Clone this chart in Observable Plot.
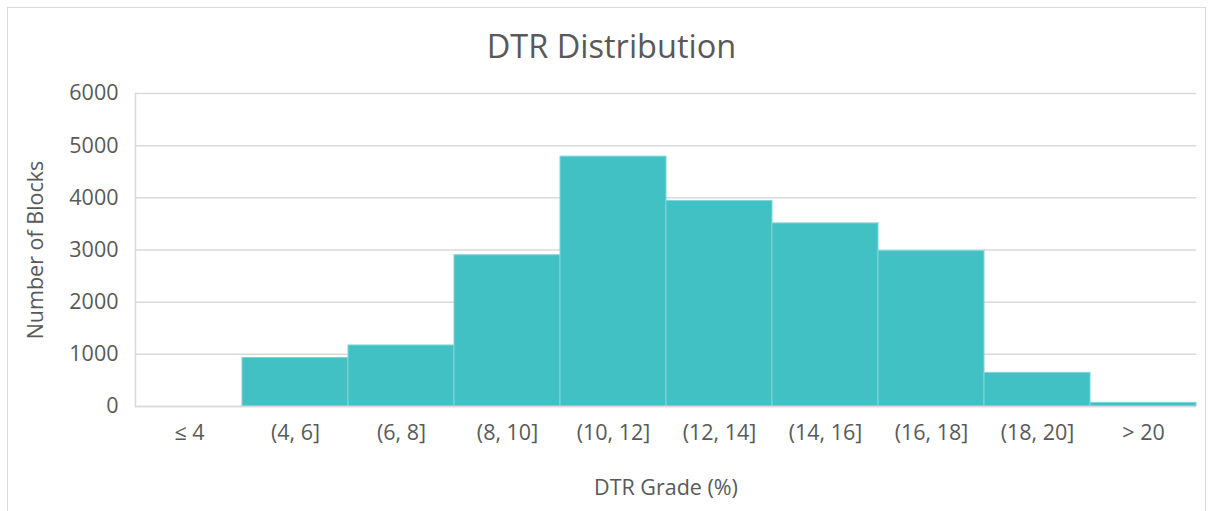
<!DOCTYPE html>
<html>
<head>
<meta charset="utf-8">
<script src="https://cdn.jsdelivr.net/npm/d3@7"></script>
<script src="https://cdn.jsdelivr.net/npm/@observablehq/plot@0.6"></script>
<style>
  html, body { margin: 0; padding: 0; background: #fff; overflow: hidden; }
  #wrap { position: relative; width: 1209px; height: 511px; font-family: "Open Sans", Lato, sans-serif; }
  #frame { position: absolute; left: 7px; top: 7px; width: 1199px; height: 520px; border: 1px solid #d9d9d9; box-sizing: border-box; pointer-events: none; }
  #title { position: relative; height: 70px; padding-top: 25px; line-height: 42px; text-align: center; font-size: 32.5px; color: #595959; padding-left: 14px; box-sizing: border-box; }
  #chart svg { display: block; }
  #chart svg text { font-size: 21.5px; }
</style>
</head>
<body>
<div id="wrap">
  <div id="frame"></div>
  <div id="title">DTR Distribution</div>
  <div id="chart"></div>
</div>
<script>
const categories = ["≤ 4", "(4, 6]", "(6, 8]", "(8, 10]", "(10, 12]", "(12, 14]", "(14, 16]", "(16, 18]", "(18, 20]", "> 20"];
const counts = [0, 930, 1170, 2900, 4790, 3940, 3510, 2980, 645, 70];
const yTicks = [0, 1000, 2000, 3000, 4000, 5000, 6000];

const data = categories.map((c, i) => ({grade: c, count: counts[i]}));

const textColor = "#595959";
const gridColor = "#d9d9d9";

const chart = Plot.plot({
  width: 1209,
  height: 441,
  marginLeft: 135,
  marginRight: 13,
  marginTop: 23,
  marginBottom: 105,
  style: {fontFamily: "'Open Sans', Lato, sans-serif", fontSize: "21.5px", color: textColor, background: "transparent"},
  x: {domain: categories, padding: 0},
  y: {domain: [0, 6000]},
  marks: [
    Plot.gridY(yTicks, {stroke: gridColor, strokeOpacity: 1, strokeWidth: 1.5}),
    Plot.barY(data, {x: "grade", y: "count", fill: "#42c1c5", stroke: "#7fd6d8", strokeWidth: 1}),
    Plot.ruleY([0], {stroke: gridColor, strokeWidth: 1.5}),
    Plot.frame({anchor: "left", stroke: gridColor, strokeWidth: 1.5}),
    Plot.axisY(yTicks, {tickSize: 0, tickPadding: 17, fill: textColor, tickFormat: d => String(d),
      label: "Number of Blocks", labelAnchor: "center", labelArrow: "none", labelOffset: 108}),
    Plot.axisX({tickSize: 0, tickPadding: 18, fill: textColor,
      label: "DTR Grade (%)", labelAnchor: "center", labelArrow: "none", labelOffset: 88})
  ]
});
document.getElementById("chart").appendChild(chart);
</script>
</body>
</html>
